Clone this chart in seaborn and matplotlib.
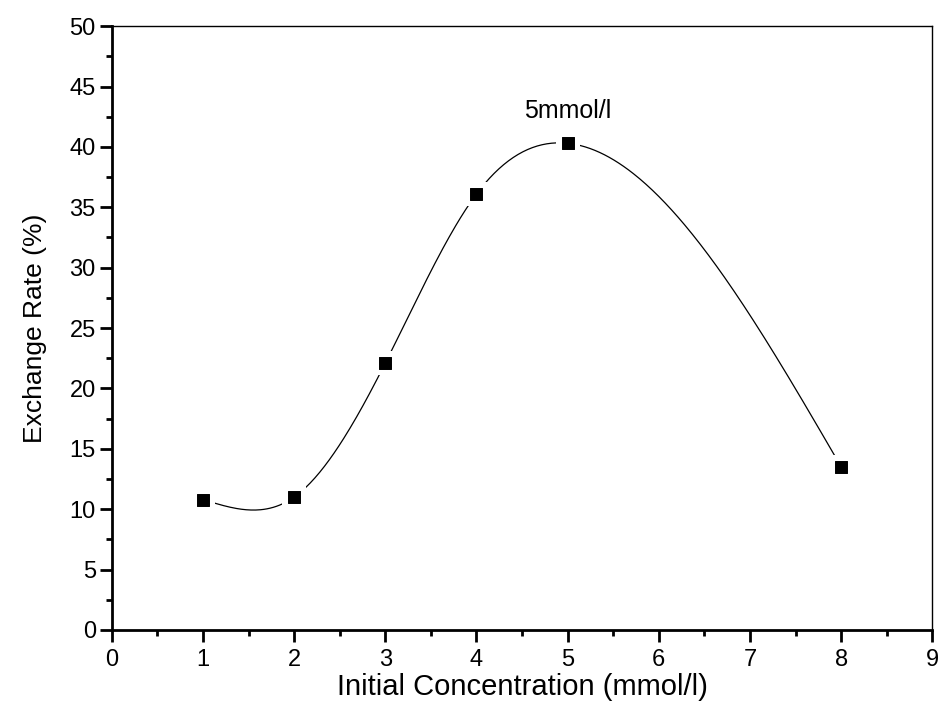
import numpy as np
import pandas as pd
import matplotlib
matplotlib.use('Agg')
import matplotlib.pyplot as plt
import seaborn as sns

# Data
concentration = [1, 2, 3, 4, 5, 8]
exchange_rate = [10.8, 11.0, 22.1, 36.1, 40.3, 13.5]
x_ticks = [0, 1, 2, 3, 4, 5, 6, 7, 8, 9]
y_ticks = [0, 5, 10, 15, 20, 25, 30, 35, 40, 45, 50]


def natural_spline(x, y, xs):
    # natural cubic spline through the measured points
    x = np.asarray(x, float)
    y = np.asarray(y, float)
    n = len(x)
    h = np.diff(x)
    A = np.zeros((n, n))
    b = np.zeros(n)
    A[0, 0] = A[-1, -1] = 1
    for i in range(1, n - 1):
        A[i, i - 1] = h[i - 1]
        A[i, i] = 2 * (h[i - 1] + h[i])
        A[i, i + 1] = h[i]
        b[i] = 6 * ((y[i + 1] - y[i]) / h[i] - (y[i] - y[i - 1]) / h[i - 1])
    M = np.linalg.solve(A, b)
    idx = np.clip(np.searchsorted(x, xs) - 1, 0, n - 2)
    x0, x1 = x[idx], x[idx + 1]
    hh = x1 - x0
    t0 = x1 - xs
    t1 = xs - x0
    return (M[idx] * t0 ** 3 / (6 * hh) + M[idx + 1] * t1 ** 3 / (6 * hh)
            + (y[idx] / hh - M[idx] * hh / 6) * t0
            + (y[idx + 1] / hh - M[idx + 1] * hh / 6) * t1)


df = pd.DataFrame({'Concentration': concentration, 'Rate': exchange_rate})
xs = np.linspace(min(concentration), max(concentration), 400)
curve = pd.DataFrame({'Concentration': xs, 'Rate': natural_spline(concentration, exchange_rate, xs)})

sns.set_style("ticks")
plt.rcParams['font.family'] = ['Liberation Sans', 'DejaVu Sans']
plt.rcParams['text.color'] = 'black'
plt.rcParams['axes.labelcolor'] = 'black'

fig = plt.figure(figsize=(9.39, 7.07), dpi=100)
ax = fig.add_axes([0.119, 0.109, 0.874, 0.854])

sns.lineplot(data=curve, x='Concentration', y='Rate', ax=ax, color='black', linewidth=0.9)
# white squares behind the markers give the Origin-style gap in the line
sns.scatterplot(data=df, x='Concentration', y='Rate', ax=ax, marker='s', s=300,
                color='white', edgecolor='none', zorder=4)
sns.scatterplot(data=df, x='Concentration', y='Rate', ax=ax, marker='s', s=75,
                color='black', edgecolor='black', zorder=5)

ax.annotate('5mmol/l', (5, 43.0), ha='center', va='center', fontsize=18)

ax.set_xlim(0, 9)
ax.set_ylim(0, 50)
ax.set_xticks(x_ticks)
ax.set_yticks(y_ticks)
ax.set_xticks(np.arange(0.5, 9, 1), minor=True)
ax.set_yticks(np.arange(2.5, 50, 5), minor=True)
ax.tick_params(axis='both', which='major', direction='out', length=8.5, width=2,
               labelsize=17, color='black', labelcolor='black', pad=3)
ax.tick_params(axis='x', which='major', pad=5)
ax.tick_params(axis='both', which='minor', direction='out', length=4.5, width=2, color='black')

for side in ['left', 'bottom']:
    ax.spines[side].set_linewidth(2)
for side in ['top', 'right']:
    ax.spines[side].set_visible(True)
    ax.spines[side].set_linewidth(1)
for sp in ax.spines.values():
    sp.set_color('black')

ax.set_xlabel('Initial Concentration (mmol/l)', fontsize=21, labelpad=2)
ax.set_ylabel('Exchange Rate (%)', fontsize=19, labelpad=16)

plt.savefig('out.png', dpi=100)
